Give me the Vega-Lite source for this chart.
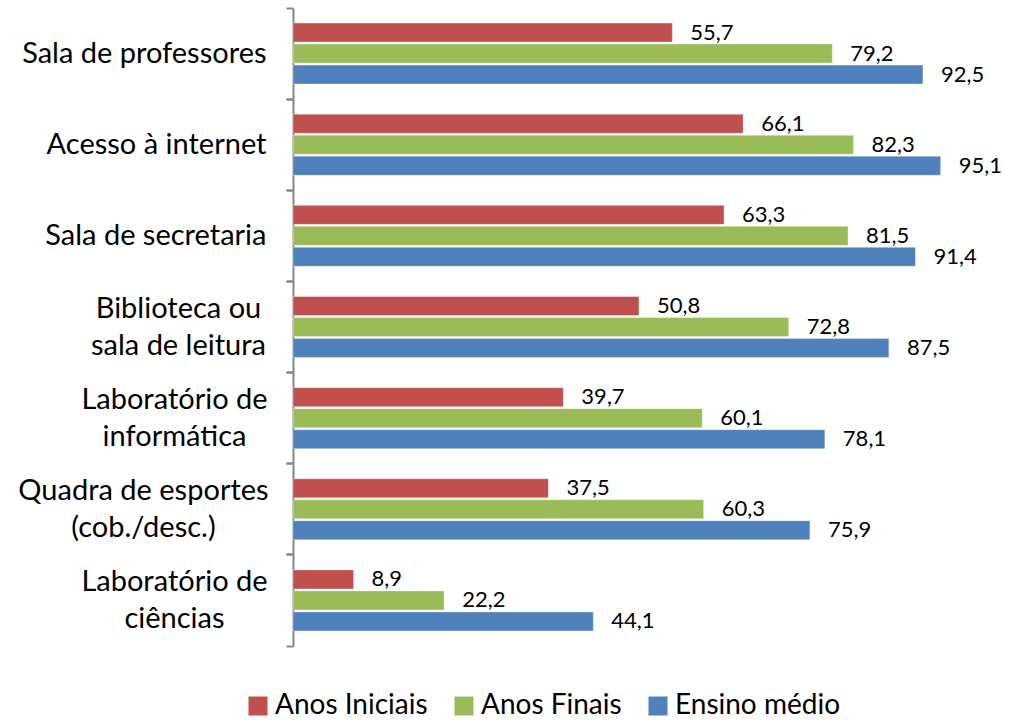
{
  "$schema": "https://vega.github.io/schema/vega-lite/v6.json",
  "autosize": {"type": "none"},
  "padding": {"left": 293, "top": 8, "right": 41, "bottom": 74},
  "width": 681,
  "height": 638,
  "config": {
    "view": {"stroke": null},
    "font": "Lato",
    "locale": {"number": {"decimal": ",", "thousands": ".", "grouping": [3], "currency": ["R$", ""]}}
  },
  "data": {"values": [
    {"categoria": "Sala de professores", "serie": "Anos Iniciais", "valor": 55.7},
    {"categoria": "Sala de professores", "serie": "Anos Finais", "valor": 79.2},
    {"categoria": "Sala de professores", "serie": "Ensino médio", "valor": 92.5},
    {"categoria": "Acesso à internet", "serie": "Anos Iniciais", "valor": 66.1},
    {"categoria": "Acesso à internet", "serie": "Anos Finais", "valor": 82.3},
    {"categoria": "Acesso à internet", "serie": "Ensino médio", "valor": 95.1},
    {"categoria": "Sala de secretaria", "serie": "Anos Iniciais", "valor": 63.3},
    {"categoria": "Sala de secretaria", "serie": "Anos Finais", "valor": 81.5},
    {"categoria": "Sala de secretaria", "serie": "Ensino médio", "valor": 91.4},
    {"categoria": "Biblioteca ou|sala de leitura", "serie": "Anos Iniciais", "valor": 50.8},
    {"categoria": "Biblioteca ou|sala de leitura", "serie": "Anos Finais", "valor": 72.8},
    {"categoria": "Biblioteca ou|sala de leitura", "serie": "Ensino médio", "valor": 87.5},
    {"categoria": "Laboratório de|informática", "serie": "Anos Iniciais", "valor": 39.7},
    {"categoria": "Laboratório de|informática", "serie": "Anos Finais", "valor": 60.1},
    {"categoria": "Laboratório de|informática", "serie": "Ensino médio", "valor": 78.1},
    {"categoria": "Quadra de esportes|(cob./desc.)", "serie": "Anos Iniciais", "valor": 37.5},
    {"categoria": "Quadra de esportes|(cob./desc.)", "serie": "Anos Finais", "valor": 60.3},
    {"categoria": "Quadra de esportes|(cob./desc.)", "serie": "Ensino médio", "valor": 75.9},
    {"categoria": "Laboratório de|ciências", "serie": "Anos Iniciais", "valor": 8.9},
    {"categoria": "Laboratório de|ciências", "serie": "Anos Finais", "valor": 22.2},
    {"categoria": "Laboratório de|ciências", "serie": "Ensino médio", "valor": 44.1}
  ]},
  "encoding": {
    "y": {"field": "categoria", "type": "nominal", "sort": null,
          "scale": {"paddingInner": 0, "paddingOuter": 0}},
    "yOffset": {"field": "serie", "type": "nominal", "sort": ["Anos Iniciais", "Anos Finais", "Ensino médio"],
                "scale": {"paddingInner": 0.095, "paddingOuter": 0.717}},
    "x": {"field": "valor", "type": "quantitative", "scale": {"domain": [0, 100]}, "axis": null}
  },
  "layer": [
    {
      "mark": {"type": "bar", "stroke": "#ffffff", "strokeOpacity": 0.35, "strokeWidth": 1},
      "encoding": {
        "y": {"field": "categoria", "type": "nominal", "sort": null, "title": null,
              "axis": {"orient": "left", "bandPosition": 0, "domainColor": "#868686", "domainWidth": 2,
                       "tickColor": "#868686", "tickWidth": 2, "tickSize": 7,
                       "labelExpr": "split(datum.label, '|')", "labelFontSize": 29, "labelColor": "#000000",
                       "labelLineHeight": 37, "labelBaseline": "middle", "labelLimit": 400,
                       "labelAlign": {"condition": {"test": "indexof(datum.value, '|') >= 0", "value": "center"}, "value": "right"},
                       "labelOffset": {"condition": {"test": "indexof(datum.value, '|') >= 0", "value": -18.5}, "value": 0},
                       "labelPadding": {"condition": [
                         {"test": "indexof(datum.value, 'Biblioteca') >= 0", "value": 108},
                         {"test": "indexof(datum.value, 'Quadra') >= 0", "value": 143},
                         {"test": "indexof(datum.value, 'Laborat') >= 0", "value": 112}
                       ], "value": 20}}},
        "color": {"field": "serie", "type": "nominal", "sort": ["Anos Iniciais", "Anos Finais", "Ensino médio"],
                  "scale": {"domain": ["Anos Iniciais", "Anos Finais", "Ensino médio"], "range": ["#C0504D", "#9BBB59", "#4F81BD"]},
                  "legend": {"title": null, "orient": "none", "direction": "horizontal", "legendX": -49, "legendY": 684,
                             "symbolType": "square", "symbolSize": 361, "symbolStrokeWidth": 0, "labelFontSize": 28,
                             "labelColor": "#000000", "labelOffset": 3, "columnPadding": 22, "padding": 0, "labelLimit": 300}}
      }
    },
    {
      "mark": {"type": "text", "align": "left", "baseline": "middle", "dx": 18, "fontSize": 22, "color": "#000000"},
      "encoding": {
        "y": {"field": "categoria", "type": "nominal", "sort": null, "title": null,
              "axis": {"orient": "left", "bandPosition": 1, "domain": false, "labels": false,
                       "tickColor": "#868686", "tickWidth": 2, "tickSize": 7}},
        "text": {"field": "valor", "type": "quantitative", "format": ".1f"}
      }
    }
  ],
  "resolve": {"axis": {"y": "independent"}}
}
